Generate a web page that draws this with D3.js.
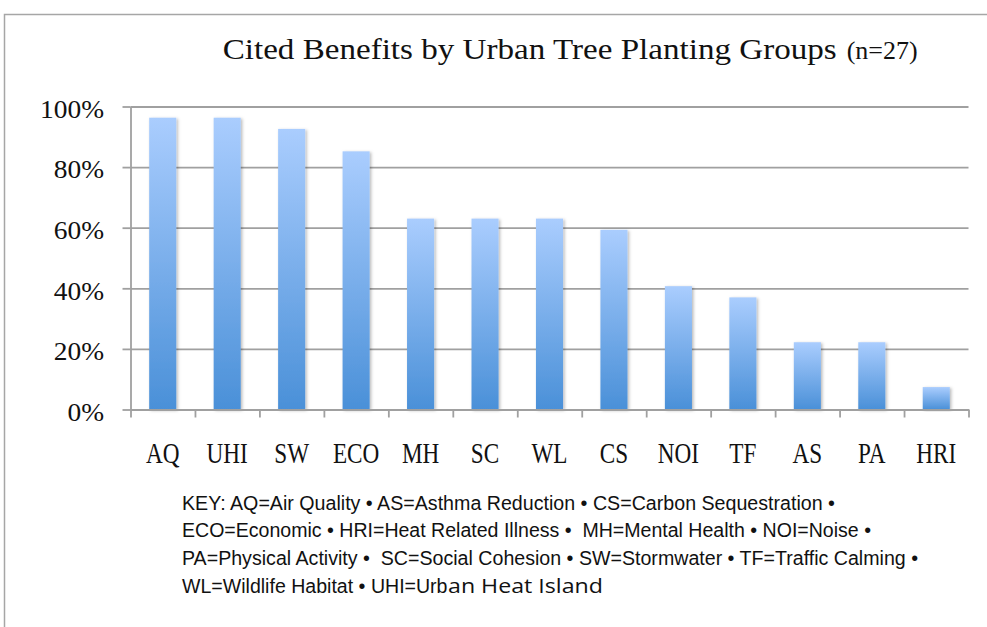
<!DOCTYPE html>
<html><head><meta charset="utf-8">
<script src="https://cdn.jsdelivr.net/npm/d3@7"></script>
<style>
html,body{margin:0;padding:0;background:#fff;}
svg{display:block;}
text{white-space:pre;}
</style></head>
<body>
<svg id="chart" width="987" height="627"></svg>
<script>
// ---- data ----
const categories = ["AQ","UHI","SW","ECO","MH","SC","WL","CS","NOI","TF","AS","PA","HRI"];
const values = [0.963,0.963,0.926,0.852,0.630,0.630,0.630,0.593,0.407,0.370,0.222,0.222,0.074];
const yTicks = [0,0.2,0.4,0.6,0.8,1.0];
const titleMain = "Cited Benefits by Urban Tree Planting Groups";
const titleSub = "(n=27)";
const keyLines = [
  "KEY: AQ=Air Quality \u2022 AS=Asthma Reduction \u2022 CS=Carbon Sequestration \u2022",
  "ECO=Economic \u2022 HRI=Heat Related Illness \u2022  MH=Mental Health \u2022 NOI=Noise \u2022",
  "PA=Physical Activity \u2022  SC=Social Cohesion \u2022 SW=Stormwater \u2022 TF=Traffic Calming \u2022"
];
const keyLast = ["WL=Wildlife Habitat \u2022 UHI=Urb", "an Heat Island"];

// ---- layout ----
const svg = d3.select("#chart");
const L = 130.5, R = 968.5, T = 106.5, B = 409.5;
const serif = "'Liberation Serif','Times New Roman',serif";
const sans = "'Liberation Sans',Arial,sans-serif";
const axisColor = "#a0a0a0";

// frame
svg.append("path").attr("d","M4.5,627V14.5H987").attr("fill","none")
  .attr("stroke","#a6a6a6").attr("stroke-width",1.5);

const defs = svg.append("defs");
const grad = defs.append("linearGradient").attr("id","barGrad")
  .attr("x1",0).attr("y1",0).attr("x2",0).attr("y2",1);
grad.append("stop").attr("offset","0%").attr("stop-color","#aacdfe");
grad.append("stop").attr("offset","100%").attr("stop-color","#4a90d8");
const filt = defs.append("filter").attr("id","shadow")
  .attr("x","-30%").attr("y","-10%").attr("width","160%").attr("height","120%");
filt.append("feDropShadow").attr("dx",1.5).attr("dy",1).attr("stdDeviation",1.6)
  .attr("flood-color","#000").attr("flood-opacity",0.28);

// scales
const x = d3.scaleBand().domain(categories).range([L,R]).paddingInner(0.58).paddingOuter(0.29);
const xb = d3.scaleLinear().domain([0,categories.length]).range([L,R]);
const y = d3.scaleLinear().domain([0,1]).range([B,T]);

// gridlines
const grid = svg.append("g").attr("transform",`translate(${L},0)`)
  .call(d3.axisLeft(y).tickValues(yTicks).tickSize(-(R-L)).tickFormat(""));
grid.select(".domain").remove();
grid.selectAll("line").attr("stroke",axisColor).attr("stroke-width",1.8);

// y axis
const yAx = svg.append("g").attr("transform",`translate(${L},0)`)
  .call(d3.axisLeft(y).tickValues(yTicks).tickSize(8).tickSizeOuter(0).tickPadding(0).tickFormat(d3.format(".0%")));
yAx.select(".domain").attr("stroke",axisColor).attr("stroke-width",1.8);
yAx.selectAll("line").attr("stroke",axisColor).attr("stroke-width",1.8);
yAx.selectAll("text").attr("font-family",serif).attr("font-size",24.5).attr("fill","#111")
  .attr("dy",null).attr("y",10.8).attr("text-anchor","start");
yAx.selectAll("text").each(function(){
  const w = this.getComputedTextLength()*1.12;
  d3.select(this).attr("textLength",w).attr("lengthAdjust","spacingAndGlyphs").attr("x",104-L-w);
});

// bars
svg.append("g").selectAll("rect").data(values).join("rect")
  .attr("x",(d,i)=>x(categories[i])).attr("width",x.bandwidth())
  .attr("y",d=>y(d)).attr("height",d=>y(0)-y(d))
  .attr("fill","url(#barGrad)").attr("filter","url(#shadow)");

// x axis boundary ticks
const xTickAx = svg.append("g").attr("transform",`translate(0,${B})`)
  .call(d3.axisBottom(xb).tickValues(d3.range(categories.length+1)).tickSize(8).tickSizeOuter(0).tickFormat(""));
xTickAx.select(".domain").attr("stroke",axisColor).attr("stroke-width",1.8);
xTickAx.selectAll("line").attr("stroke",axisColor).attr("stroke-width",1.8);

// x labels
const xAx = svg.append("g").attr("transform",`translate(0,${B})`)
  .call(d3.axisBottom(x).tickSize(0).tickPadding(0));
xAx.select(".domain").remove();
xAx.selectAll("text").attr("font-family",serif).attr("font-size",29).attr("fill","#111")
  .attr("dy",null).attr("y",53).attr("text-anchor","start");
xAx.selectAll("text").each(function(){
  const w = this.getComputedTextLength()*0.8;
  d3.select(this).attr("textLength",w).attr("lengthAdjust","spacingAndGlyphs").attr("x",-w/2);
});

// title
svg.append("text").attr("x",222.7).attr("y",59.3).attr("font-family",serif).attr("font-size",29)
  .attr("fill","#111").attr("textLength",614).attr("lengthAdjust","spacingAndGlyphs").text(titleMain);
svg.append("text").attr("x",846.7).attr("y",58.5).attr("font-family",serif).attr("font-size",24.5)
  .attr("fill","#111").attr("textLength",71).attr("lengthAdjust","spacingAndGlyphs").text(titleSub);

// key
const keyW = [653,689,736];
const keyY = [509.5,537.3,565,592.8];
keyLines.forEach((t,i)=>{
  svg.append("text").attr("x",182).attr("y",keyY[i]).attr("font-family",sans).attr("font-size",20)
    .attr("fill","#111").attr("textLength",keyW[i]).attr("lengthAdjust","spacingAndGlyphs").text(t);
});
svg.append("text").attr("x",182).attr("y",keyY[3]).attr("font-family",sans).attr("font-size",20)
  .attr("fill","#111").attr("textLength",265.5).attr("lengthAdjust","spacingAndGlyphs").text(keyLast[0]);
svg.append("text").attr("x",448).attr("y",keyY[3]).attr("font-family","'Open Sans',sans-serif").attr("font-size",20)
  .attr("fill","#111").attr("textLength",155).attr("lengthAdjust","spacingAndGlyphs").text(keyLast[1]);
</script>
</body></html>
